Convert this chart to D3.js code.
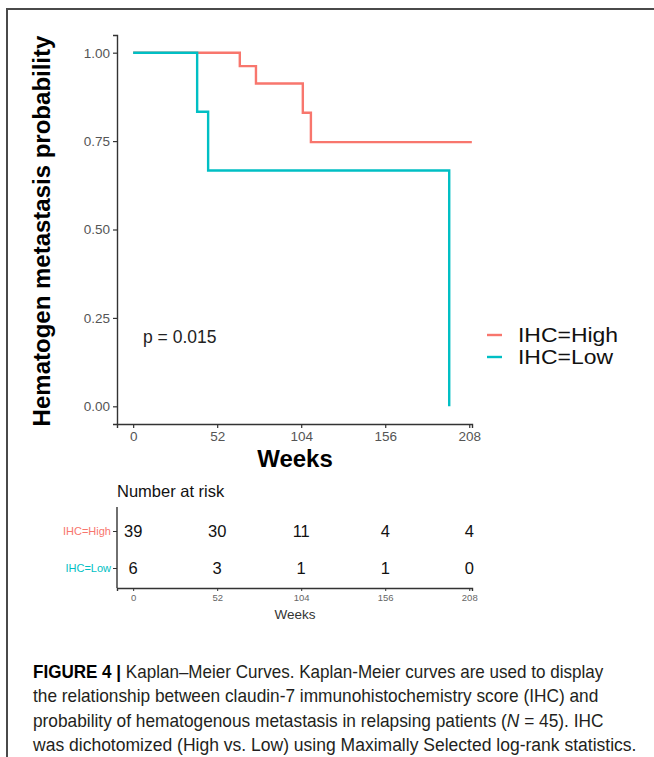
<!DOCTYPE html>
<html>
<head>
<meta charset="utf-8">
<script src="https://cdn.jsdelivr.net/npm/d3@7"></script>
<style>
  body { margin: 0; background: #fff; }
  svg { display: block; font-family: "Liberation Sans", Arial, sans-serif; }
</style>
</head>
<body>
<svg id="fig" width="654" height="757"></svg>
<script>
// Kaplan–Meier estimates per IHC group (weeks, probability)
const groups = ["IHC=High", "IHC=Low"];
const groupColors = ["#F8766D", "#00BFC4"];
const highWeeks = [0, 66, 76, 105, 110, 209.6];
const highProb  = [1, 0.962, 0.913, 0.830, 0.747, 0.747];
const lowWeeks  = [0, 39.6, 46.4, 195.6];
const lowProb   = [1, 0.833, 0.667, 0];

// Axis ticks
const weekTicks = [0, 52, 104, 156, 208];
const probTicks = [0, 0.25, 0.5, 0.75, 1];

// Number at risk at each week tick
const riskHigh = [39, 30, 11, 4, 4];
const riskLow  = [6, 3, 1, 1, 0];

const pLabel = "p = 0.015";

const svg = d3.select("#fig");

// Figure frame (left and top rules)
svg.append("path")
  .attr("d", "M7,757 V9 H654")
  .attr("fill", "none").attr("stroke", "#4a4a4a").attr("stroke-width", 2);

// ---------- Survival plot ----------
const x = d3.scaleLinear().domain([-10, 209.7]).range([117, 472]);
const y = d3.scaleLinear().domain([-0.05, 1.05]).range([424, 35]);

const axisCol = "#333";
const tickTextCol = "#555";

const gx = svg.append("g").attr("transform", "translate(0,424)")
  .call(d3.axisBottom(x).tickValues(weekTicks).tickSizeOuter(0).tickSize(4).tickPadding(3));
const gy = svg.append("g").attr("transform", "translate(117,0)")
  .call(d3.axisLeft(y).tickValues(probTicks).tickFormat(d3.format(".2f")).tickSizeOuter(0).tickSize(4).tickPadding(3));
[gx, gy].forEach(g => {
  g.select(".domain").attr("stroke", axisCol).attr("stroke-width", 1.4);
  g.selectAll(".tick line").attr("stroke", axisCol).attr("stroke-width", 1.2);
  g.selectAll(".tick text").attr("fill", tickTextCol).attr("font-size", 13.5)
    .attr("font-family", "Liberation Sans, Arial, sans-serif");
});

const line = d3.line().x(d => x(d[0])).y(d => y(d[1])).curve(d3.curveStepAfter);
const series = [
  d3.zip(highWeeks, highProb),
  d3.zip(lowWeeks, lowProb)
];
series.forEach((s, i) => {
  svg.append("path").attr("d", line(s))
    .attr("fill", "none").attr("stroke", groupColors[i])
    .attr("stroke-width", 2.4).attr("stroke-linejoin", "miter");
});

// Axis titles
svg.append("text")
  .attr("transform", "translate(50,231) rotate(-90)")
  .attr("text-anchor", "middle").attr("font-weight", "bold")
  .attr("font-size", 24).attr("fill", "#000")
  .text("Hematogen metastasis probability");
svg.append("text")
  .attr("x", 295).attr("y", 467)
  .attr("text-anchor", "middle").attr("font-weight", "bold")
  .attr("font-size", 24).attr("fill", "#000")
  .text("Weeks");

// p-value
svg.append("text")
  .attr("x", 143).attr("y", 343)
  .attr("font-size", 17.5).attr("fill", "#222")
  .text(pLabel);

// Legend
const legend = svg.append("g");
groups.forEach((g, i) => {
  const ly = 335 + i * 22;
  legend.append("line").attr("x1", 487).attr("x2", 502).attr("y1", ly).attr("y2", ly)
    .attr("stroke", groupColors[i]).attr("stroke-width", 2.4);
  legend.append("text").attr("x", 518).attr("y", ly).attr("dy", "0.35em")
    .attr("transform", "translate(518,0) scale(1.12,1) translate(-518,0)")
    .attr("font-size", 20.5).attr("fill", "#111").text(g);
});

// ---------- Number at risk table ----------
svg.append("text").attr("x", 117).attr("y", 497)
  .attr("font-size", 16.5).attr("fill", "#111").text("Number at risk");

const yr = d3.scalePoint().domain(groups).range([531, 568]);

const tx = svg.append("g").attr("transform", "translate(0,588)")
  .call(d3.axisBottom(x).tickValues(weekTicks).tickSizeOuter(0).tickSize(3).tickPadding(3));
tx.select(".domain").attr("stroke", axisCol).attr("stroke-width", 1.4);
tx.selectAll(".tick line").attr("stroke", axisCol);
tx.selectAll(".tick text").attr("fill", "#666").attr("font-size", 9.5)
  .attr("font-family", "Liberation Sans, Arial, sans-serif");

const ty = svg.append("g").attr("transform", "translate(117,0)")
  .call(d3.axisLeft(yr).tickSize(4).tickPadding(2));
ty.select(".domain").attr("d", "M0,507V588").attr("stroke", axisCol).attr("stroke-width", 1.4);
ty.selectAll(".tick line").attr("stroke", axisCol);
ty.selectAll(".tick text")
  .attr("fill", (d, i) => groupColors[i]).attr("font-size", 11)
  .attr("font-family", "Liberation Sans, Arial, sans-serif");

[riskHigh, riskLow].forEach((row, i) => {
  svg.append("g").selectAll("text").data(row).join("text")
    .attr("x", (d, j) => x(weekTicks[j]))
    .attr("y", yr(groups[i])).attr("dy", "0.35em")
    .attr("text-anchor", "middle").attr("font-size", 16.5).attr("fill", "#111")
    .text(d => d);
});

svg.append("text").attr("x", 295).attr("y", 619)
  .attr("text-anchor", "middle").attr("font-size", 13.5).attr("fill", "#333")
  .text("Weeks");

// ---------- Caption ----------
const captionLines = [
  [["FIGURE 4 | ", "bold"], ["Kaplan–Meier Curves. Kaplan-Meier curves are used to display", "normal"]],
  [["the relationship between claudin-7 immunohistochemistry score (IHC) and", "normal"]],
  [["probability of hematogenous metastasis in relapsing patients (", "normal"], ["N", "italic"], [" = 45). IHC", "normal"]],
  [["was dichotomized (High vs. Low) using Maximally Selected log-rank statistics.", "normal"]]
];
const captionWidths = [571, 566, 571, 604];
const capX = 33;
captionLines.forEach((parts, i) => {
  const t = svg.append("text").attr("x", capX).attr("y", 678 + i * 24.5)
    .attr("font-size", 18).attr("fill", "#231f20");
  parts.forEach(([s, style]) => {
    const sp = t.append("tspan").text(s);
    if (style === "bold") sp.attr("font-weight", "bold").attr("fill", "#000");
    if (style === "italic") sp.attr("font-style", "italic");
  });
  const w = t.node().getComputedTextLength();
  const k = captionWidths[i] / w;
  t.attr("transform", `translate(${capX},0) scale(${k},1) translate(${-capX},0)`);
});
</script>
</body>
</html>
